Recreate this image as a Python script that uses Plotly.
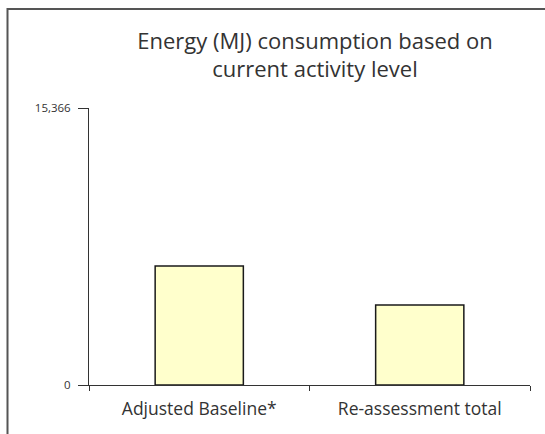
import plotly.graph_objects as go

# Energy use by assessment stage (MJ)
categories = ["Adjusted Baseline*", "Re-assessment total"]
energy_mj = [6600, 4440]
y_max = 15366
y_tick_values = [0, y_max]
y_tick_labels = ["0", "15,366"]

title_text = "Energy (MJ) consumption based on<br>current activity level"

fig = go.Figure(
    go.Bar(
        x=categories,
        y=energy_mj,
        width=0.4,
        marker=dict(color="#FFFFCC", line=dict(color="#1a1a1a", width=1.5)),
        hoverinfo="x+y",
    )
)

font_family = "'Open Sans', Lato, sans-serif"

fig.update_layout(
    width=545,
    height=434,
    margin=dict(l=89, r=15, t=108, b=49),
    paper_bgcolor="white",
    plot_bgcolor="white",
    showlegend=False,
    font=dict(family=font_family, color="#333333"),
    title=dict(
        text=title_text,
        x=0.578,
        xref="container",
        xanchor="center",
        y=0.888,
        yref="container",
        yanchor="middle",
        font=dict(size=22, color="#333333", family=font_family),
    ),
    xaxis=dict(
        showline=True,
        linecolor="#333333",
        linewidth=1,
        ticks="outside",
        tickson="boundaries",
        ticklen=5,
        tickcolor="#333333",
        tickfont=dict(size=17.5, color="#333333"),
        ticklabelstandoff=8,
        showgrid=False,
        zeroline=False,
    ),
    yaxis=dict(
        range=[0, y_max],
        tickvals=y_tick_values,
        ticktext=y_tick_labels,
        showline=True,
        linecolor="#333333",
        linewidth=1,
        ticks="outside",
        ticklen=10,
        tickcolor="#333333",
        tickfont=dict(size=11.5, color="#333333"),
        ticklabelstandoff=5,
        showgrid=False,
        zeroline=False,
    ),
    shapes=[
        # outer frame of the chart panel
        dict(
            type="rect",
            xref="paper",
            yref="paper",
            x0=-0.1848,
            x1=1.1,
            y0=-0.25,
            y1=1.357,
            line=dict(color="#555555", width=2),
            fillcolor="rgba(0,0,0,0)",
            layer="below",
        )
    ],
)

fig.write_html("out.html")
